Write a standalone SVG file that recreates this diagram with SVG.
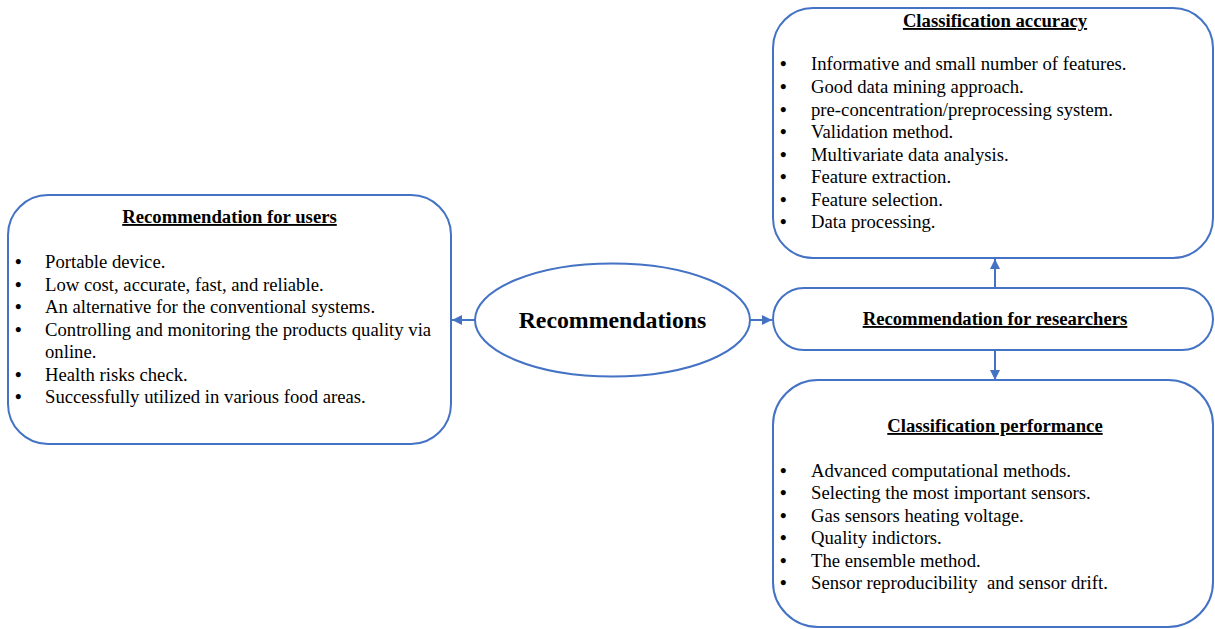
<svg xmlns="http://www.w3.org/2000/svg" width="1215" height="629" viewBox="0 0 1215 629">
<style>
.box{fill:#fff;stroke:#4472C4;stroke-width:2}
.t{font-family:"Liberation Serif","Times New Roman",serif;font-size:18.7px;fill:#000}
.bl{font-weight:bold}
.h{font-family:"Liberation Serif","Times New Roman",serif;font-size:18.7px;font-weight:bold;fill:#000;text-decoration:underline}
.big{font-family:"Liberation Serif","Times New Roman",serif;font-size:23.8px;font-weight:bold;fill:#000}
.c{fill:none;stroke:#4472C4;stroke-width:2}
</style>
<defs>
<marker id="ah" viewBox="0 0 10 10" refX="10" refY="5" markerWidth="5" markerHeight="5" orient="auto" markerUnits="strokeWidth">
<path d="M0,0 L10,5 L0,10 z" fill="#4472C4"/>
</marker>
</defs>
<rect width="1215" height="629" fill="#fff"/>
<g id="connectors">
<line class="c" x1="475" y1="320" x2="452" y2="320" marker-end="url(#ah)"/>
<line class="c" x1="750" y1="320" x2="772" y2="320" marker-end="url(#ah)"/>
<line class="c" x1="995" y1="288" x2="995" y2="259" marker-end="url(#ah)"/>
<line class="c" x1="995" y1="350" x2="995" y2="380" marker-end="url(#ah)"/>
</g>
<g id="users">
<rect class="box" x="8" y="195" width="443" height="249" rx="40" ry="40"/>
<text class="h" x="229.5" y="223" text-anchor="middle">Recommendation for users</text>
<g class="t">
<text x="15" y="268"><tspan class="bl">•</tspan><tspan x="45">Portable device.</tspan></text>
<text x="15" y="291"><tspan class="bl">•</tspan><tspan x="45">Low cost, accurate, fast, and reliable.</tspan></text>
<text x="15" y="313"><tspan class="bl">•</tspan><tspan x="45">An alternative for the conventional systems.</tspan></text>
<text x="15" y="336"><tspan class="bl">•</tspan><tspan x="45">Controlling and monitoring the products quality via</tspan></text>
<text x="45" y="358">online.</text>
<text x="15" y="381"><tspan class="bl">•</tspan><tspan x="45">Health risks check.</tspan></text>
<text x="15" y="403"><tspan class="bl">•</tspan><tspan x="45">Successfully utilized in various food areas.</tspan></text>
</g>
</g>
<g id="recommendations">
<ellipse class="box" cx="612.5" cy="320" rx="137.5" ry="56.5"/>
<text class="big" x="612.5" y="328" text-anchor="middle">Recommendations</text>
</g>
<g id="researchers">
<rect class="box" x="773" y="288" width="440" height="62" rx="31" ry="31"/>
<text class="h" x="995" y="325" text-anchor="middle">Recommendation for researchers</text>
</g>
<g id="accuracy">
<rect class="box" x="773" y="8" width="440" height="250" rx="40" ry="40"/>
<text class="h" x="995" y="27" text-anchor="middle">Classification accuracy</text>
<g class="t">
<text x="780" y="70"><tspan class="bl">•</tspan><tspan x="811">Informative and small number of features.</tspan></text>
<text x="780" y="93"><tspan class="bl">•</tspan><tspan x="811">Good data mining approach.</tspan></text>
<text x="780" y="116"><tspan class="bl">•</tspan><tspan x="811">pre-concentration/preprocessing system.</tspan></text>
<text x="780" y="138"><tspan class="bl">•</tspan><tspan x="811">Validation method.</tspan></text>
<text x="780" y="161"><tspan class="bl">•</tspan><tspan x="811">Multivariate data analysis.</tspan></text>
<text x="780" y="183"><tspan class="bl">•</tspan><tspan x="811">Feature extraction.</tspan></text>
<text x="780" y="206"><tspan class="bl">•</tspan><tspan x="811">Feature selection.</tspan></text>
<text x="780" y="228"><tspan class="bl">•</tspan><tspan x="811">Data processing.</tspan></text>
</g>
</g>
<g id="performance">
<rect class="box" x="773" y="380" width="440" height="247" rx="45" ry="45"/>
<text class="h" x="995" y="432" text-anchor="middle">Classification performance</text>
<g class="t">
<text x="780" y="477"><tspan class="bl">•</tspan><tspan x="811">Advanced computational methods.</tspan></text>
<text x="780" y="499"><tspan class="bl">•</tspan><tspan x="811">Selecting the most important sensors.</tspan></text>
<text x="780" y="522"><tspan class="bl">•</tspan><tspan x="811">Gas sensors heating voltage.</tspan></text>
<text x="780" y="544"><tspan class="bl">•</tspan><tspan x="811">Quality indictors.</tspan></text>
<text x="780" y="567"><tspan class="bl">•</tspan><tspan x="811">The ensemble method.</tspan></text>
<text x="780" y="589"><tspan class="bl">•</tspan><tspan x="811">Sensor reproducibility&#160; and sensor drift.</tspan></text>
</g>
</g>
</svg>
